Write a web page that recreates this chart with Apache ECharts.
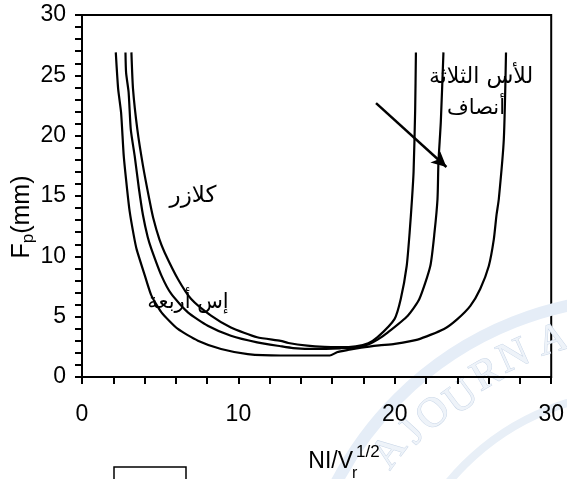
<!DOCTYPE html>
<html><head><meta charset="utf-8">
<script src="https://cdn.jsdelivr.net/npm/echarts@6/dist/echarts.min.js"></script>
<style>html,body{margin:0;padding:0;background:#fff}#c{width:567px;height:479px}</style>
</head><body><div id="c"></div>
<script>
// Tick values
const xTicks = [0, 10, 20, 30];
const yTicks = [0, 5, 10, 15, 20, 25, 30];

// Outer curve (lowest minimum)
const curveOuter = [
  [2.16, 26.9], [2.31, 23.9], [2.5, 21.9], [2.67, 18.3], [2.88, 15.6], [3.05, 13.7],
  [3.3, 11.8], [3.49, 10.6], [4.02, 8.4], [4.44, 6.74], [5.08, 5.36], [6.13, 3.98],
  [7.41, 3.01], [8.89, 2.32], [10.6, 1.9], [12.7, 1.78], [15.85, 1.78], [16.3, 2.05],
  [17.0, 2.24], [17.85, 2.43], [19.0, 2.62], [20.0, 2.75], [21.46, 3.1], [23.15, 3.98],
  [24.0, 4.8], [24.83, 5.9], [25.46, 7.3], [26.01, 9.2], [26.33, 11.4], [26.5, 13.4],
  [26.65, 14.75], [26.97, 19.7], [27.11, 26.9]
];
// Middle curve
const curveMiddle = [
  [2.78, 26.9], [2.82, 25.2], [2.98, 23.6], [3.12, 20.5], [3.37, 18.3], [3.64, 15.6],
  [3.9, 13.4], [4.2, 11.6], [4.44, 10.6], [5.08, 8.4], [5.71, 6.88], [6.77, 5.36],
  [8.04, 4.25], [9.52, 3.42], [11.2, 2.87], [12.7, 2.55], [13.5, 2.4], [15.0, 2.33],
  [16.5, 2.38], [17.5, 2.45], [18.3, 2.7], [18.9, 3.1], [19.56, 3.7], [20.83, 5.08],
  [21.57, 6.46], [22.27, 9.2], [22.54, 12.0], [22.73, 14.75], [22.79, 17.8],
  [22.94, 21.1], [23.11, 26.9]
];
// Inner curve (highest minimum)
const curveInner = [
  [3.16, 26.9], [3.26, 23.9], [3.54, 20.5], [3.9, 17.5], [4.3, 14.75], [4.55, 13.2],
  [4.95, 11.4], [5.29, 10.3], [6.14, 8.1], [6.98, 6.46], [8.25, 5.08], [9.52, 4.1],
  [11.2, 3.29], [12.7, 3.0], [13.2, 2.82], [14.4, 2.6], [15.5, 2.5], [16.5, 2.48],
  [17.5, 2.55], [18.3, 2.8], [18.9, 3.3], [19.98, 4.8], [20.38, 6.46], [20.76, 9.2],
  [20.95, 12.0], [21.1, 14.75], [21.2, 17.0], [21.3, 22.0], [21.35, 26.9]
];
// Arrow (data coordinates)
const arrowStart = [18.8, 22.7];
const arrowEnd = [23.3, 17.4];

const black = '#000';
const lineSeries = (data, extra) => Object.assign({
  type: 'line', data: data, showSymbol: false, smooth: 0.2, animation: false, silent: true,
  lineStyle: { color: black, width: 2.2 }, z: 3
}, extra || {});

const axisCommon = {
  type: 'value', min: 0, max: 30,
  axisLine: { show: true, lineStyle: { color: black, width: 2 } },
  axisTick: { show: true, inside: false, length: 7, lineStyle: { color: black, width: 2 } },
  minorTick: { show: true, splitNumber: 5, length: 7, lineStyle: { color: black, width: 2 } },
  splitLine: { show: false },
  minorSplitLine: { show: false }
};

const chart = echarts.init(document.getElementById('c'), null, { renderer: 'canvas' });
const wmLetters = [
  { t: 'A', x: 390, y: 452, r: 0.925 },
  { t: 'J', x: 413, y: 432, r: 0.83 },
  { t: 'O', x: 434, y: 414, r: 0.744 },
  { t: 'U', x: 462, y: 398, r: 0.639 },
  { t: 'R', x: 487, y: 375, r: 0.524 },
  { t: 'N', x: 514, y: 357, r: 0.422 },
  { t: 'A', x: 553, y: 341, r: 0.283 }
];
const graphics = [
  { type: 'arc', z: 0, shape: { cx: 640, cy: 640, r: 342, startAngle: Math.PI, endAngle: Math.PI * 1.5 },
    style: { stroke: '#e5edf7', lineWidth: 12, fill: null }, silent: true },
  { type: 'arc', z: 0, shape: { cx: 640, cy: 640, r: 248, startAngle: Math.PI, endAngle: Math.PI * 1.5 },
    style: { stroke: '#e8eff7', lineWidth: 8, fill: null }, silent: true }
];
wmLetters.forEach(l => graphics.push({
  type: 'text', z: 0, x: l.x, y: l.y, rotation: l.r, silent: true,
  style: { text: l.t, fill: '#eef3f9', stroke: '#c9d6e7', lineWidth: 1, font: '42px "Liberation Serif"', align: 'center', verticalAlign: 'middle' }
}));
graphics.push(
  { type: 'text', z: 10, x: 22, y: 217, rotation: Math.PI / 2,
    style: { text: '{a|F}{b|p}{a|(mm)}', align: 'center', verticalAlign: 'middle',
      rich: { a: { fontSize: 25, fontFamily: 'Liberation Sans', fill: black },
              b: { fontSize: 17, fontFamily: 'Liberation Sans', fill: black, verticalAlign: 'bottom', padding: [12, 0, 0, 0] } } } },
  { type: 'text', z: 10, x: 353, y: 462,
    style: { text: 'NI/V', fill: black, font: '23px "Liberation Sans"', align: 'right', verticalAlign: 'middle' } },
  { type: 'text', z: 10, x: 352, y: 474,
    style: { text: 'r', fill: black, font: '16px "Liberation Sans"', align: 'left', verticalAlign: 'middle' } },
  { type: 'text', z: 10, x: 356, y: 452,
    style: { text: '1/2', fill: black, font: '17px "Liberation Sans"', align: 'left', verticalAlign: 'middle' } },
  { type: 'text', z: 10, x: 193, y: 196,
    style: { text: 'كلازر', fill: black, font: '23px "DejaVu Sans"', align: 'center', verticalAlign: 'middle' } },
  { type: 'text', z: 10, x: 188, y: 303,
    style: { text: 'إس أربعة', fill: black, font: '21px "DejaVu Sans"', align: 'center', verticalAlign: 'middle' } },
  { type: 'text', z: 10, x: 481, y: 77,
    style: { text: 'للأس الثلاثة', fill: black, font: '22px "DejaVu Sans"', align: 'center', verticalAlign: 'middle' } },
  { type: 'text', z: 10, x: 476, y: 109,
    style: { text: 'أنصاف', fill: black, font: '21px "DejaVu Sans"', align: 'center', verticalAlign: 'middle' } },
  { type: 'rect', z: 10, shape: { x: 114, y: 467, width: 72, height: 20 },
    style: { stroke: black, lineWidth: 1.5, fill: null } }
);

chart.setOption({
  animation: false,
  backgroundColor: '#fff',
  grid: { left: 82, right: 13, top: 15, bottom: 102, show: true, borderColor: black, borderWidth: 2, backgroundColor: 'transparent' },
  xAxis: Object.assign({}, axisCommon, {
    interval: xTicks[1] - xTicks[0],
    axisLabel: { margin: 26, fontSize: 23, color: black, fontFamily: 'Liberation Sans' }
  }),
  yAxis: Object.assign({}, axisCommon, {
    interval: yTicks[1] - yTicks[0],
    axisLabel: { margin: 16, fontSize: 23, color: black, fontFamily: 'Liberation Sans' }
  }),
  graphic: graphics,
  series: [
    lineSeries(curveOuter, {
      markLine: {
        silent: true, animation: false, symbol: ['none', 'arrow'], symbolSize: [11, 15],
        label: { show: false },
        lineStyle: { color: black, width: 2.5, type: 'solid' },
        data: [[{ coord: arrowStart }, { coord: arrowEnd }]]
      }
    }),
    lineSeries(curveMiddle),
    lineSeries(curveInner)
  ]
});
</script>
</body></html>
